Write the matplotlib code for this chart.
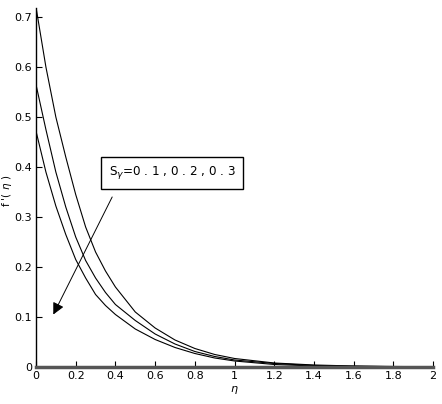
import matplotlib
matplotlib.use("Agg")
import matplotlib.pyplot as plt

# eta grid and the three f'(eta) profiles (S_gamma = 0.1, 0.2, 0.3)
eta = [0, 0.05, 0.1, 0.15, 0.2, 0.25, 0.3, 0.35, 0.4, 0.5, 0.6, 0.7, 0.8, 0.9,
       1.0, 1.2, 1.4, 1.6, 1.8, 2.0]
f_top = [0.72, 0.60, 0.50, 0.42, 0.345, 0.28, 0.23, 0.192, 0.16, 0.11, 0.078,
         0.054, 0.037, 0.025, 0.017, 0.008, 0.004, 0.002, 0.001, 0.0005]
f_mid = [0.565, 0.475, 0.39, 0.32, 0.26, 0.213, 0.178, 0.149, 0.125, 0.093,
         0.066, 0.046, 0.031, 0.021, 0.014, 0.007, 0.003, 0.0015, 0.0007, 0.0003]
f_bot = [0.472, 0.39, 0.322, 0.265, 0.215, 0.178, 0.145, 0.123, 0.105, 0.076,
         0.055, 0.039, 0.027, 0.018, 0.012, 0.005, 0.002, 0.001, 0.0005, 0.0002]

xticks = [0, 0.2, 0.4, 0.6, 0.8, 1, 1.2, 1.4, 1.6, 1.8, 2]
xtick_labels = ["0", "0.2", "0.4", "0.6", "0.8", "1", "1.2", "1.4", "1.6", "1.8", "2"]
yticks = [0, 0.1, 0.2, 0.3, 0.4, 0.5, 0.6, 0.7]
ytick_labels = ["0", "0.1", "0.2", "0.3", "0.4", "0.5", "0.6", "0.7"]

fig = plt.figure(figsize=(4.42, 4.04), dpi=100)
ax = fig.add_axes([0.0814, 0.0916, 0.8986, 0.8886])

for f in (f_top, f_mid, f_bot):
    ax.plot(eta, f, color="black", lw=0.8)

ax.set_xlim(0, 2)
ax.set_ylim(0, 0.718)
ax.set_xticks(xticks)
ax.set_xticklabels(xtick_labels)
ax.set_yticks(yticks)
ax.set_yticklabels(ytick_labels)
ax.tick_params(direction="in", length=4, width=0.8, labelsize=8, pad=3)

ax.spines["top"].set_visible(False)
ax.spines["right"].set_visible(False)
ax.spines["left"].set_linewidth(1.0)
ax.spines["bottom"].set_linewidth(2.5)
ax.spines["bottom"].set_color("#555555")

ax.set_xlabel(r"$\eta$", fontsize=8, labelpad=2)
ax.set_ylabel(r"f '( $\eta$ )", fontsize=7.5)
ax.yaxis.set_label_coords(-0.056, 0.49)

ax.annotate("", xy=(0.081, 0.1), xytext=(0.39, 0.345),
            arrowprops=dict(arrowstyle="-|>,head_length=0.5,head_width=0.25",
                            color="black", lw=0.7, mutation_scale=14))
ax.text(0.685, 0.388, r"S$_{\gamma}$=0 . 1 , 0 . 2 , 0 . 3", fontsize=9.5,
        fontstretch="condensed", ha="center", va="center",
        bbox=dict(boxstyle="square,pad=0.55", fc="white", ec="black", lw=1.0))

fig.savefig("out.png", dpi=100)
